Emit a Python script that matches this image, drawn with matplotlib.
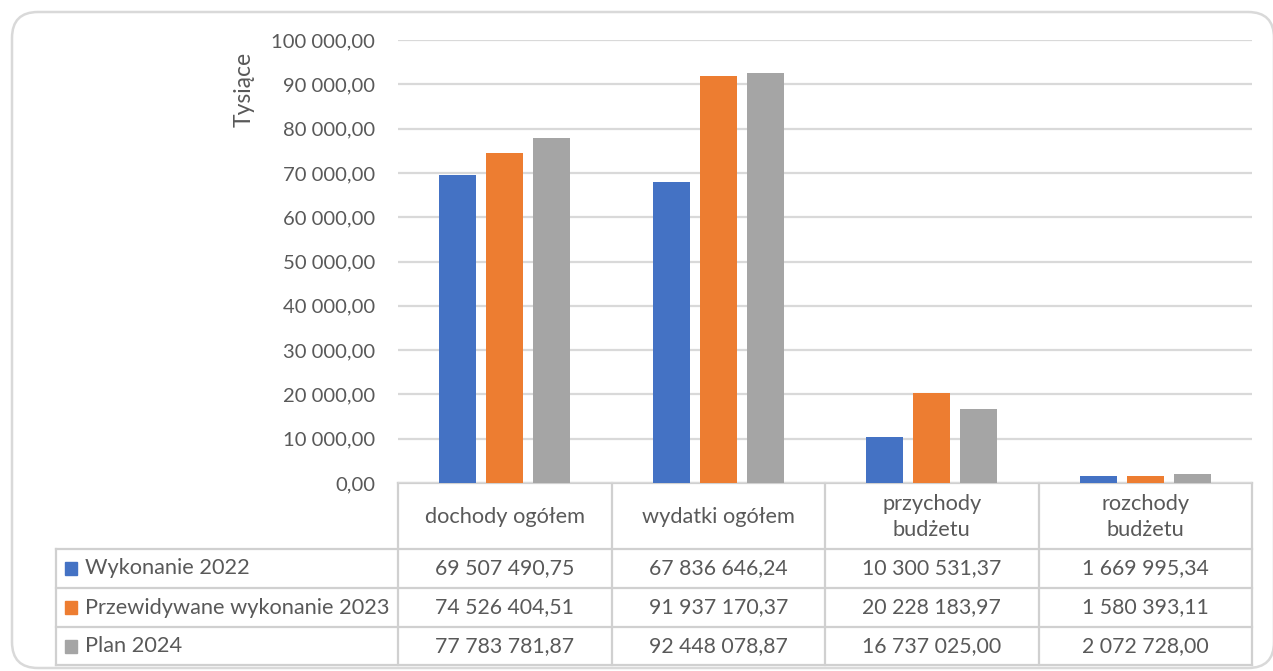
import matplotlib.pyplot as plt
import numpy as np
from matplotlib.patches import FancyBboxPatch, Rectangle
from matplotlib.ticker import FuncFormatter

# Data (PLN), chart axis shows thousands
categories = ['dochody ogółem', 'wydatki ogółem', 'przychody\nbudżetu', 'rozchody\nbudżetu']
series_names = ['Wykonanie 2022', 'Przewidywane wykonanie 2023', 'Plan 2024']
wykonanie_2022 = [69507490.75, 67836646.24, 10300531.37, 1669995.34]
przewidywane_2023 = [74526404.51, 91937170.37, 20228183.97, 1580393.11]
plan_2024 = [77783781.87, 92448078.87, 16737025.00, 2072728.00]
series_values = [wykonanie_2022, przewidywane_2023, plan_2024]
colors = ['#4472C4', '#ED7D31', '#A5A5A5']

plt.rcParams['font.family'] = ['Lato', 'DejaVu Sans']
text_color = '#595959'
line_color = '#D9D9D9'

W, H = 1273, 671
fig = plt.figure(figsize=(W / 100, H / 100), dpi=100)

# overlay axes in pixel coordinates for frame and data table
ov = fig.add_axes([0, 0, 1, 1])
ov.set_xlim(0, W)
ov.set_ylim(H, 0)
ov.axis('off')

# plot area (pixels)
px0, px1 = 398, 1252
py_top, py_bot = 40, 483

ax = fig.add_axes([px0 / W, 1 - py_bot / H, (px1 - px0) / W, (py_bot - py_top) / H])
ax.set_zorder(2)
ax.patch.set_alpha(0)

x = np.arange(len(categories))
bar_width = 0.173
pitch = 0.22
for i, (vals, col, name) in enumerate(zip(series_values, colors, series_names)):
    ax.bar(x + (i - 1) * pitch, np.array(vals) / 1000, width=bar_width, color=col, label=name, zorder=3)

ax.set_xlim(-0.5, len(categories) - 0.5)
ax.set_ylim(0, 100000)
ax.set_yticks(np.arange(0, 100001, 10000))
ax.yaxis.set_major_formatter(FuncFormatter(lambda v, p: f"{v:,.2f}".replace(',', ' ').replace('.', ',')))
ax.tick_params(axis='y', length=0, pad=16.5, labelsize=14.6, labelcolor=text_color)
ax.set_xticks([])
for s in ax.spines.values():
    s.set_visible(False)
ax.grid(axis='y', color=line_color, linewidth=1.6, zorder=0)
ax.set_ylabel('Tysiące', fontsize=16.5, color=text_color)
ax.yaxis.set_label_coords(-(px0 - 255) / (px1 - px0), 1 - (89 - py_top) / (py_bot - py_top))

# outer rounded frame
ov.add_patch(FancyBboxPatch((12, 12), 1262, 656, boxstyle='round,pad=0,rounding_size=26',
                            fill=False, edgecolor=line_color, linewidth=1.8))

# data table
tab_left = 56
row_edges = [483, 549, 588, 627, 665]
col_w = (px1 - px0) / len(categories)
col_edges = [px0 + k * col_w for k in range(len(categories) + 1)]
tcol = '#D0D0D0'
lw = 1.6

ov.plot([px0, px1], [row_edges[0], row_edges[0]], color=tcol, lw=lw)
for yy in row_edges[1:]:
    ov.plot([tab_left, px1], [yy, yy], color=tcol, lw=lw)
ov.plot([tab_left, tab_left], [row_edges[1], row_edges[-1]], color=tcol, lw=lw)
for xx in col_edges:
    ov.plot([xx, xx], [row_edges[0], row_edges[-1]], color=tcol, lw=lw)

def fmt(v):
    return f"{v:,.2f}".replace(',', ' ').replace('.', ',')

# category header row
for k, cat in enumerate(categories):
    ov.text((col_edges[k] + col_edges[k + 1]) / 2, (row_edges[0] + row_edges[1]) / 2 + 1, cat,
            ha='center', va='center', fontsize=15.7, color=text_color, linespacing=1.4)

# series rows
for r, (name, col, vals) in enumerate(zip(series_names, colors, series_values)):
    yc = (row_edges[r + 1] + row_edges[r + 2]) / 2
    ov.add_patch(Rectangle((65, yc - 6.5), 12, 13, color=col))
    ov.text(85, yc, name, ha='left', va='center', fontsize=15.7, color=text_color)
    for k, v in enumerate(vals):
        ov.text((col_edges[k] + col_edges[k + 1]) / 2, yc, fmt(v),
                ha='center', va='center', fontsize=15.3, color=text_color)

fig.savefig('out.png', dpi=100)
